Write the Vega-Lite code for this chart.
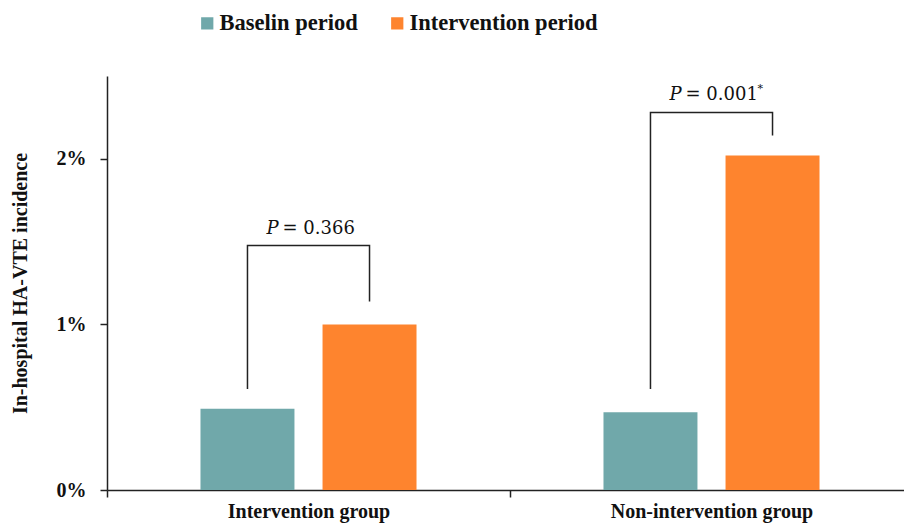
{
  "$schema": "https://vega.github.io/schema/vega-lite/v6.json",
  "autosize": "none",
  "padding": {"left": 107, "top": 76, "right": 0, "bottom": 34},
  "width": 797,
  "height": 414,
  "background": "white",
  "config": {
    "view": {"stroke": null},
    "font": "Liberation Serif",
    "axis": {
      "grid": false,
      "domainColor": "#222222",
      "domainWidth": 1.5,
      "tickColor": "#222222",
      "tickWidth": 1.5,
      "tickSize": 7,
      "labelFont": "Liberation Serif",
      "labelFontWeight": "bold",
      "labelFontSize": 20,
      "labelColor": "#111111",
      "titleFont": "Liberation Serif",
      "titleFontWeight": "bold",
      "titleFontSize": 20,
      "titleColor": "#111111"
    }
  },
  "datasets": {
    "bars": [
      {"group": "Intervention group", "period": "Baselin period", "value": 0.0049},
      {"group": "Intervention group", "period": "Intervention period", "value": 0.0100},
      {"group": "Non-intervention group", "period": "Baselin period", "value": 0.0047},
      {"group": "Non-intervention group", "period": "Intervention period", "value": 0.0202}
    ],
    "brackets": [
      {"group": "Intervention group", "period": "Baselin period", "y": 0.0061, "ord": 1},
      {"group": "Intervention group", "period": "Baselin period", "y": 0.01476, "ord": 2},
      {"group": "Intervention group", "period": "Intervention period", "y": 0.01476, "ord": 3},
      {"group": "Intervention group", "period": "Intervention period", "y": 0.01138, "ord": 4},
      {"group": "Non-intervention group", "period": "Baselin period", "y": 0.0061, "ord": 1},
      {"group": "Non-intervention group", "period": "Baselin period", "y": 0.0228, "ord": 2},
      {"group": "Non-intervention group", "period": "Intervention period", "y": 0.0228, "ord": 3},
      {"group": "Non-intervention group", "period": "Intervention period", "y": 0.0214, "ord": 4}
    ],
    "labels": [
      {"group": "Intervention group", "y": 0.01476, "stat": "= 0.366", "star": ""},
      {"group": "Non-intervention group", "y": 0.0228, "stat": "= 0.001", "star": "*"}
    ]
  },
  "encoding": {
    "x": {
      "field": "group",
      "type": "nominal",
      "sort": ["Intervention group", "Non-intervention group"],
      "scale": {"range": [0, 806], "paddingInner": 0, "paddingOuter": 0},
      "axis": {"title": null, "labelAngle": 0, "tickBand": "extent", "labelPadding": 4, "labelBaseline": "top", "labelLimit": 400}
    }
  },
  "layer": [
    {
      "data": {"name": "bars"},
      "mark": {"type": "bar"},
      "encoding": {
        "xOffset": {
          "field": "period",
          "type": "nominal",
          "sort": ["Baselin period", "Intervention period"],
          "scale": {"paddingInner": 0.23, "paddingOuter": 0.766}
        },
        "y": {
          "field": "value",
          "type": "quantitative",
          "scale": {"domain": [0, 0.025], "nice": false},
          "axis": {
            "title": "In-hospital HA-VTE incidence",
            "values": [0, 0.01, 0.02],
            "format": ".0%",
            "labelPadding": 14,
            "titlePadding": 26
          }
        },
        "color": {
          "field": "period",
          "type": "nominal",
          "scale": {"domain": ["Baselin period", "Intervention period"], "range": ["#70A8AA", "#FE842E"]},
          "legend": {
            "title": null,
            "orient": "none",
            "direction": "horizontal",
            "legendX": 89,
            "legendY": -64,
            "symbolType": "square",
            "symbolSize": 150,
            "symbolStrokeWidth": 0,
            "labelFont": "Liberation Serif",
            "labelFontWeight": "bold",
            "labelFontSize": 22.5,
            "labelColor": "#111111",
            "labelOffset": 1,
            "labelLimit": 400,
            "columnPadding": 28
          }
        }
      }
    },
    {
      "data": {"name": "brackets"},
      "mark": {"type": "line", "color": "#222222", "strokeWidth": 1.5, "interpolate": "linear"},
      "encoding": {
        "xOffset": {"field": "period", "type": "nominal", "sort": ["Baselin period", "Intervention period"]},
        "y": {"field": "y", "type": "quantitative"},
        "detail": {"field": "group"},
        "order": {"field": "ord", "type": "quantitative"}
      }
    },
    {
      "data": {"name": "labels"},
      "mark": {"type": "text", "text": "P", "font": "DejaVu Serif", "fontStyle": "italic", "fontSize": 18, "align": "right", "baseline": "alphabetic", "dx": -30, "dy": -12, "color": "#111111"},
      "encoding": {
        "y": {"field": "y", "type": "quantitative"}
      }
    },
    {
      "data": {"name": "labels"},
      "mark": {"type": "text", "font": "DejaVu Serif", "fontSize": 18, "align": "left", "baseline": "alphabetic", "dx": -26, "dy": -12, "color": "#111111"},
      "encoding": {
        "y": {"field": "y", "type": "quantitative"},
        "text": {"field": "stat"}
      }
    },
    {
      "data": {"name": "labels"},
      "mark": {"type": "text", "font": "DejaVu Serif", "fontSize": 11, "align": "left", "baseline": "alphabetic", "dx": 46, "dy": -20, "color": "#111111"},
      "encoding": {
        "y": {"field": "y", "type": "quantitative"},
        "text": {"field": "star"}
      }
    }
  ]
}
